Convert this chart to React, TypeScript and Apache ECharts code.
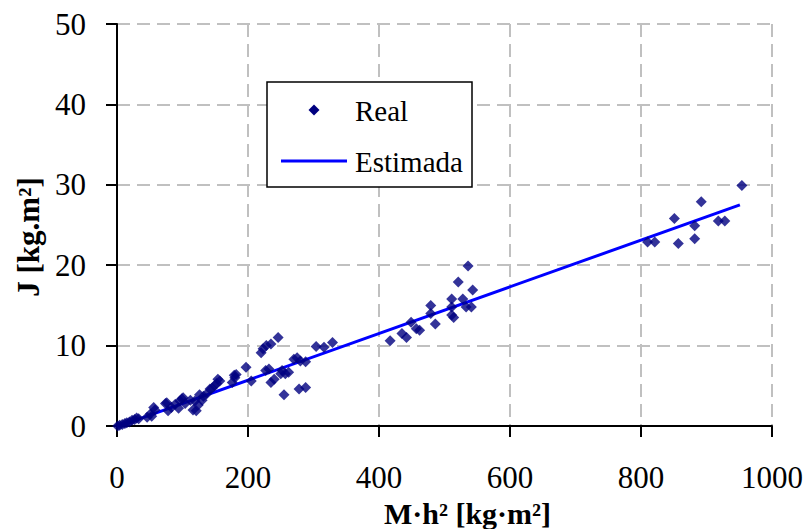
import React, { useEffect, useRef } from "react";
import * as echarts from "echarts";

const realPoints: [number, number][] = [
  [1, 0], [4, 0.1], [8, 0.2], [12, 0.3], [15, 0.4], [19, 0.5], [23, 0.7], [27, 0.8], [30, 1.0], [33, 0.9],
  [46, 1.1], [51, 1.5], [53, 1.2], [56, 2.3], [58, 2.0],
  [74, 2.8], [76, 2.9], [78, 1.9], [83, 2.3], [89, 2.7], [94, 2.2], [96, 3.1], [99, 3.4], [101, 3.5], [104, 2.8], [112, 3.2],
  [116, 2.0], [119, 3.1], [121, 1.9], [124, 2.6], [126, 3.9], [130, 3.2], [132, 3.7],
  [137, 4.0], [142, 4.6], [145, 4.7], [149, 5.0], [152, 5.3], [154, 5.8], [157, 5.6],
  [176, 5.4], [179, 6.3], [180, 6.0], [182, 6.4], [197, 7.3], [205, 5.6],
  [220, 9.1], [223, 9.6], [228, 10.0], [235, 10.2], [246, 11.0],
  [227, 6.9], [232, 7.1], [235, 5.4], [240, 5.8], [250, 6.5], [252, 6.9], [257, 6.5], [262, 6.7],
  [255, 3.9], [270, 8.3], [275, 8.5], [280, 8.1], [288, 8.0], [278, 4.6], [288, 4.8],
  [304, 9.9], [316, 9.8], [329, 10.4],
  [417, 10.6], [435, 11.5], [442, 11.0], [449, 12.9], [457, 12.1], [462, 11.9], [479, 15.0], [479, 14.0],
  [486, 12.7], [511, 15.8], [511, 14.8], [514, 13.5], [511, 13.8], [521, 17.9], [528, 15.8], [533, 14.8],
  [541, 14.8], [536, 19.9], [543, 16.9],
  [810, 22.9], [821, 22.9], [851, 25.8], [857, 22.7], [882, 24.9], [882, 23.3], [892, 27.9], [918, 25.5],
  [928, 25.5], [954, 29.9],
];

const estimatedLine: [number, number][] = [
  [0, -0.1],
  [951, 27.5],
];

const xTicks = [0, 200, 400, 600, 800, 1000];
const yTicks = [0, 10, 20, 30, 40, 50];
const legendLabels = ["Real", "Estimada"];

const FONT = "Liberation Serif";

export default function App() {
  const ref = useRef<HTMLDivElement>(null);
  useEffect(() => {
    if (!ref.current) return;
    const chart = echarts.init(ref.current, undefined, { renderer: "svg" });
    const gridLine = { show: true, lineStyle: { color: "#c0c0c0", width: 2, type: [13, 7] as any } };
    chart.setOption({
      animation: false,
      backgroundColor: "#ffffff",
      textStyle: { fontFamily: FONT, color: "#000" },
      grid: { left: 117, right: 36, top: 24, bottom: 103, containLabel: false, outerBoundsMode: "none" },
      xAxis: {
        type: "value",
        min: xTicks[0],
        max: xTicks[xTicks.length - 1],
        interval: 200,
        name: "M·h² [kg·m²]",
        nameLocation: "middle",
        nameGap: 63,
        nameTextStyle: { fontFamily: FONT, fontSize: 30, fontWeight: "bold", color: "#000", padding: [0, 0, 0, 46], lineHeight: 32 },
        axisLine: { show: true, onZero: false, lineStyle: { color: "#000", width: 2 } },
        axisTick: { show: true, inside: false, length: 11, lineStyle: { color: "#000", width: 2 } },
        axisLabel: { fontFamily: FONT, fontSize: 31, color: "#000", margin: 36, formatter: (v: number) => String(v) },
        splitLine: gridLine,
      },
      yAxis: {
        type: "value",
        min: yTicks[0],
        max: yTicks[yTicks.length - 1],
        interval: 10,
        name: "J [kg.m²]",
        nameLocation: "middle",
        nameGap: 72,
        nameRotate: 90,
        nameTextStyle: { fontFamily: FONT, fontSize: 31, fontWeight: "bold", color: "#000", padding: [0, 24, 0, 0] },
        axisLine: { show: true, onZero: false, lineStyle: { color: "#000", width: 2 } },
        axisTick: { show: true, inside: false, length: 11, lineStyle: { color: "#000", width: 2 } },
        axisLabel: { fontFamily: FONT, fontSize: 31, color: "#000", margin: 31, formatter: (v: number) => String(v) },
        splitLine: gridLine,
      },
      graphic: [
        {
          type: "rect",
          shape: { x: 267, y: 82, width: 205, height: 105 },
          style: { fill: "#fff", stroke: "#000", lineWidth: 1.5 },
          z: 10,
        },
        {
          type: "polygon",
          shape: { points: [[314, 104.5], [319.5, 110], [314, 115.5], [308.5, 110]] },
          style: { fill: "#000080" },
          z: 11,
        },
        {
          type: "line",
          shape: { x1: 281, y1: 161, x2: 347, y2: 161 },
          style: { stroke: "#0000ff", lineWidth: 3 },
          z: 11,
        },
        {
          type: "text",
          x: 355,
          y: 111,
          style: { text: legendLabels[0], font: "29px Liberation Serif", fill: "#000", textVerticalAlign: "middle" },
          z: 11,
        },
        {
          type: "text",
          x: 355,
          y: 162,
          style: { text: legendLabels[1], font: "29px Liberation Serif", fill: "#000", textVerticalAlign: "middle" },
          z: 11,
        },
      ],
      series: [
        {
          name: "Estimada",
          type: "line",
          data: estimatedLine,
          showSymbol: false,
          symbol: "none",
          lineStyle: { color: "#0000ff", width: 3 },
          itemStyle: { color: "#0000ff" },
          z: 2,
        },
        {
          name: "Real",
          type: "scatter",
          data: realPoints,
          symbol: "diamond",
          symbolSize: 11,
          itemStyle: { color: "#000080" },
          z: 3,
        },
      ],
    });
    return () => chart.dispose();
  }, []);
  return <div ref={ref} style={{ position: "fixed", left: 0, top: 0, width: 808, height: 529 }} />;
}
